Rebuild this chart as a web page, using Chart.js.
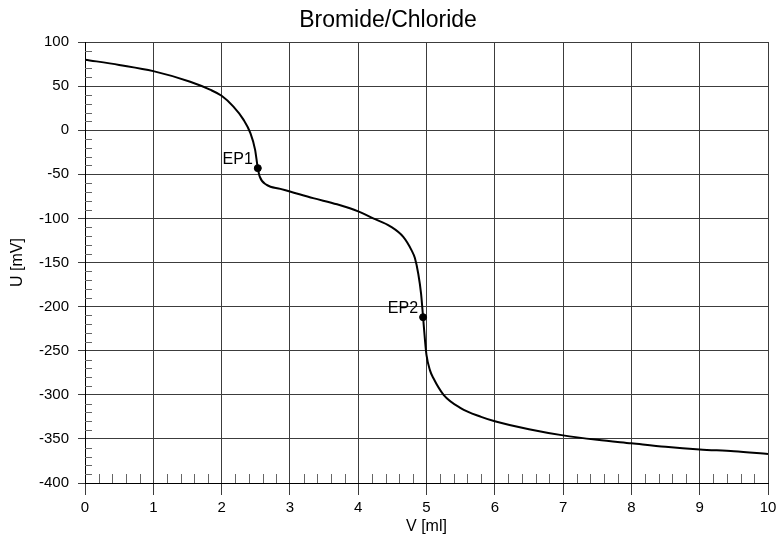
<!DOCTYPE html>
<html>
<head>
<meta charset="utf-8">
<title>Bromide/Chloride</title>
<script src="https://cdn.jsdelivr.net/npm/chart.js@4/dist/chart.umd.min.js"></script>
<style>
	html, body { margin: 0; padding: 0; background: #fff; }
	#wrap { width: 776px; height: 536px; position: relative; }
</style>
</head>
<body>
<div id="wrap"><canvas id="titration"></canvas></div>
<script>
/* data */
const volumes = [0, 0.5, 1.0, 1.54, 1.83, 2.0, 2.17, 2.32, 2.42, 2.49, 2.53, 2.56, 2.66, 2.86, 3.0, 3.34, 3.69, 4.0, 4.22, 4.47, 4.66, 4.78, 4.83, 4.88, 4.92, 4.95, 4.98, 5.0, 5.05, 5.1, 5.25, 5.5, 5.8, 6.0, 6.5, 7.0, 7.5, 8.0, 8.5, 9.0, 9.5, 10.0];
const potentials = [80, 74, 67, 55, 46, 39, 27, 12, -3, -22, -43, -53, -62, -66.5, -69.5, -77, -84, -92, -100, -109, -121, -136, -145, -163, -185, -212, -240, -255, -272, -281, -300, -315, -325, -330, -339, -346, -351, -355, -359, -362, -364, -367];

const epLabels = ['EP1', 'EP2'];
const epVolumes = [2.53, 4.95];
const epPotentials = [-43, -212];

const xMin = 0, xMax = 10, xStep = 1, xMinorStep = 0.2;
const yMin = -400, yMax = 100, yStep = 50, yMinorStep = 10;

/* style */
const fontFamily = "'Liberation Sans', Arial, sans-serif";
const gridColor = '#3c3c3c';
const minorColor = '#666';

// short minor ticks inside the plot, along the left and bottom edges
const minorTicks = {
	id: 'minorTicks',
	beforeDatasetsDraw(chart) {
		const { ctx, chartArea, scales: { x, y } } = chart;
		ctx.save();
		ctx.strokeStyle = minorColor;
		ctx.lineWidth = 1;
		ctx.beginPath();
		for (let v = yMin + yMinorStep; v < yMax; v += yMinorStep) {
			if (Math.abs(v % yStep) < 1e-6) continue;
			const py = Math.round(y.getPixelForValue(v)) + 0.5;
			ctx.moveTo(chartArea.left, py);
			ctx.lineTo(chartArea.left + 7, py);
		}
		for (let i = 1; i < (xMax - xMin) / xMinorStep; i++) {
			const v = xMin + i * xMinorStep;
			if (Math.abs(v - Math.round(v)) < 1e-6) continue;
			const px = Math.round(x.getPixelForValue(v)) + 0.5;
			ctx.moveTo(px, chartArea.bottom);
			ctx.lineTo(px, chartArea.bottom - 9);
		}
		ctx.stroke();
		ctx.restore();
	},
};

// EP labels to the upper left of each end point
const epText = {
	id: 'epText',
	afterDatasetsDraw(chart) {
		const { ctx } = chart;
		const meta = chart.getDatasetMeta(1);
		ctx.save();
		ctx.fillStyle = '#000';
		ctx.font = `16px ${fontFamily}`;
		ctx.textAlign = 'right';
		ctx.textBaseline = 'middle';
		meta.data.forEach((pt, i) => {
			ctx.fillText(epLabels[i], pt.x - 5, pt.y - 9);
		});
		ctx.restore();
	},
};

const curve = volumes.map((v, i) => ({ x: v, y: potentials[i] }));
const endPoints = epVolumes.map((v, i) => ({ x: v, y: epPotentials[i] }));

new Chart(document.getElementById('titration'), {
	type: 'scatter',
	data: {
		datasets: [
			{
				data: curve,
				showLine: true,
				borderColor: '#000',
				borderWidth: 2,
				pointRadius: 0,
				cubicInterpolationMode: 'monotone',
			},
			{
				data: endPoints,
				showLine: false,
				pointRadius: 3.5,
				pointBackgroundColor: '#000',
				pointBorderColor: '#000',
			},
		],
	},
	options: {
		responsive: true,
		maintainAspectRatio: false,
		animation: false,
		layout: { padding: 0 },
		plugins: {
			legend: { display: false },
			tooltip: { enabled: false },
			title: {
				display: true,
				text: 'Bromide/Chloride',
				color: '#000',
				font: { family: fontFamily, size: 23, weight: 'normal', lineHeight: 1.2 },
				padding: { top: 7, bottom: 7.4 },
			},
		},
		scales: {
			x: {
				type: 'linear',
				min: xMin,
				max: xMax,
				afterFit: (scale) => {
					scale.height = 53;
					scale.paddingRight = 8;
				},
				ticks: {
					stepSize: xStep,
					color: '#000',
					padding: 4,
					maxRotation: 0,
					font: { family: fontFamily, size: 15 },
				},
				grid: { color: gridColor, tickColor: gridColor, tickLength: 12 },
				border: { color: '#000' },
				title: {
					display: true,
					text: 'V [ml]',
					color: '#000',
					font: { family: fontFamily, size: 16, lineHeight: 1.2 },
					padding: { top: 0, bottom: 0 },
				},
			},
			y: {
				type: 'linear',
				min: yMin,
				max: yMax,
				afterFit: (scale) => { scale.width = 85; },
				ticks: {
					stepSize: yStep,
					color: '#000',
					padding: 9,
					font: { family: fontFamily, size: 15 },
				},
				grid: { color: gridColor, tickColor: gridColor, tickLength: 7 },
				border: { color: '#000' },
				title: {
					display: true,
					text: 'U [mV]',
					color: '#000',
					font: { family: fontFamily, size: 16, lineHeight: 1.2 },
					padding: { top: 8, bottom: 0 },
				},
			},
		},
	},
	plugins: [minorTicks, epText],
});
</script>
</body>
</html>
